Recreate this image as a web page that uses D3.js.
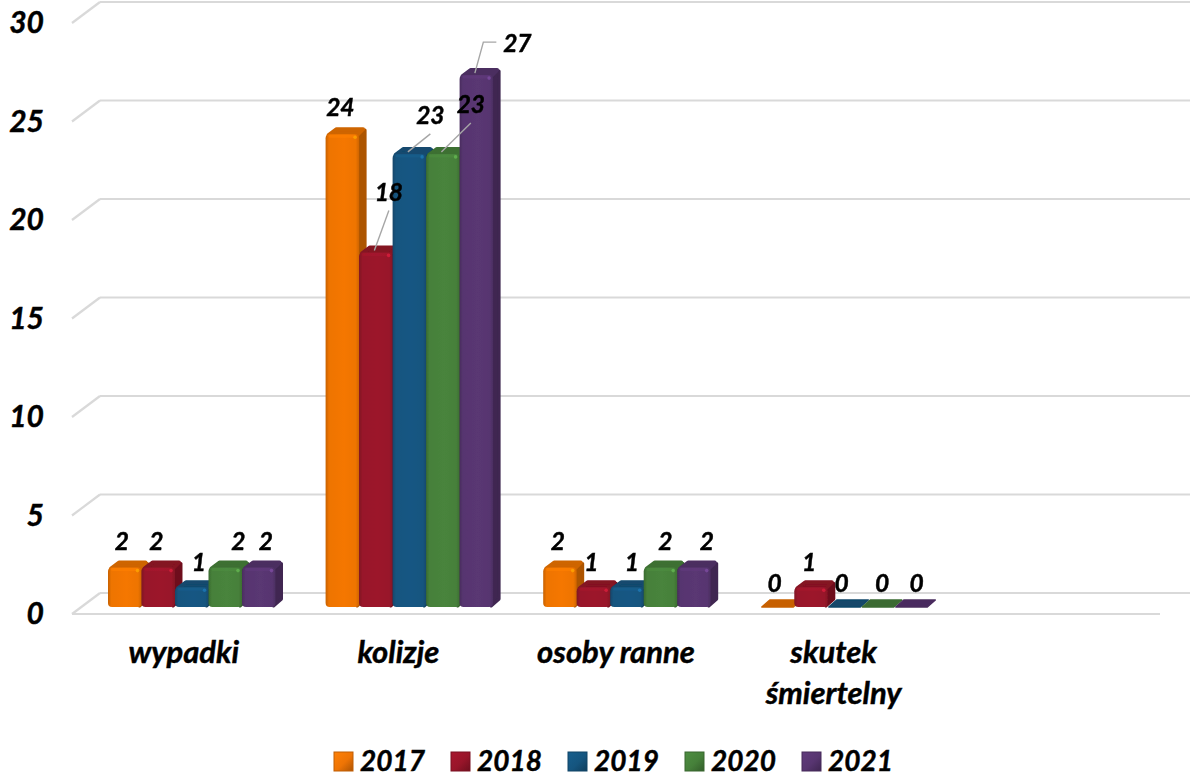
<!DOCTYPE html>
<html>
<head>
<meta charset="utf-8">
<script src="https://cdn.jsdelivr.net/npm/d3@7"></script>
<style>
  html, body { margin: 0; background: #fff; }
  svg { display: block; }
  text { font-family: Lato, "Open Sans", sans-serif; font-weight: 700; font-style: italic; fill: #000; stroke: #000; stroke-width: 0.45px; }
</style>
</head>
<body>
<div id="chart"></div>
<script>
// last slot is empty in the original chart
const categories = ["wypadki", "kolizje", "osoby ranne", "skutek śmiertelny", ""];
const years = ["2017", "2018", "2019", "2020", "2021"];
const values2017 = [2, 24, 2, 0, null];
const values2018 = [2, 18, 1, 1, null];
const values2019 = [1, 23, 1, 0, null];
const values2020 = [2, 23, 2, 0, null];
const values2021 = [2, 27, 2, 0, null];
const allSeries = [values2017, values2018, values2019, values2020, values2021];
const yTicks = [0, 5, 10, 15, 20, 25, 30];
const colors = ["#ee7405", "#98152a", "#15557f", "#46803a", "#573570"];

// hand placed labels, offset from the top centre of each bar [dx, dy]
const labelNudge = {
  "wypadki":           [[-3, -27], [-2, -27], [7, -26], [13, -27], [7, -27]],
  "kolizje":           [[-2, -28], [13, -61], [21, -39], [28, -50], [41, -33]],
  "osoby ranne":       [[-2, -27], [-2, -26], [5, -26], [5, -27], [13, -27]],
  "skutek śmiertelny": [[-3, -25], [-2, -26], [-3, -25], [4, -25], [5, -25]]
};
// which labels got a leader line in the original (category, series)
const leaders = [["kolizje", 1], ["kolizje", 2], ["kolizje", 3], ["kolizje", 4]];

const width = 1200, height = 778;
const depth = 8;
const floorFront = 614, floorBack = 593, barBase = 607;

const svg = d3.select("#chart").append("svg")
    .attr("width", width)
    .attr("height", height);

const x = d3.scaleBand().domain(categories).range([72, 1160]);
const xBar = d3.scaleBand().domain(years).range([0, 167.5]);
const barsLeft = 36;

// front edge of the box carries the labels, back wall carries the gridlines
const yFront = d3.scaleLinear().domain([0, 30]).range([floorFront, floorFront - 591]);
const yBack = d3.scaleLinear().domain([0, 30]).range([floorBack, floorBack - 591]);
const barH = v => yBack(0) - yBack(v);

// gradients
const defs = svg.append("defs");
defs.append("filter").attr("id", "soft")
    .attr("x", "-5%").attr("y", "-5%").attr("width", "110%").attr("height", "110%")
  .append("feGaussianBlur").attr("stdDeviation", 0.6);
colors.forEach((c, i) => {
  const base = d3.color(c);
  const g = defs.append("linearGradient").attr("id", "front" + i);
  g.append("stop").attr("offset", "0%").attr("stop-color", base.darker(0.5));
  g.append("stop").attr("offset", "10%").attr("stop-color", base);
  g.append("stop").attr("offset", "55%").attr("stop-color", base.brighter(0.08));
  g.append("stop").attr("offset", "90%").attr("stop-color", base);
  g.append("stop").attr("offset", "100%").attr("stop-color", base.darker(0.4));

  const s = defs.append("linearGradient").attr("id", "swatch" + i)
      .attr("x1", 0).attr("y1", 0).attr("x2", 1).attr("y2", 1);
  s.append("stop").attr("offset", "0%").attr("stop-color", base.brighter(0.3));
  s.append("stop").attr("offset", "55%").attr("stop-color", base);
  s.append("stop").attr("offset", "100%").attr("stop-color", base.darker(0.9));
});

// grid
const grid = svg.append("g").attr("fill", "none").attr("stroke", "#d9d9d9").attr("stroke-width", 2.2);
grid.selectAll(".back").data(yTicks).enter().append("line")
    .attr("x1", 100).attr("x2", 1190)
    .attr("y1", d => yBack(d)).attr("y2", d => yBack(d));
grid.selectAll(".side").data(yTicks).enter().append("line")
    .attr("x1", 72).attr("x2", 100)
    .attr("y1", d => yFront(d)).attr("y2", d => yBack(d));
grid.append("line")
    .attr("x1", 72).attr("x2", 1160)
    .attr("y1", yFront(0)).attr("y2", yFront(0));

// y axis
const yAxis = svg.append("g")
    .attr("transform", "translate(44,0)")
    .call(d3.axisLeft(yFront).tickValues(yTicks).tickSize(0).tickPadding(0));
yAxis.select(".domain").remove();
yAxis.selectAll("text").style("font-size", "30px").style("font-family", null);

// x axis
const xAxis = svg.append("g")
    .attr("transform", "translate(0,644)")
    .call(d3.axisBottom(x).tickSize(0).tickPadding(0));
xAxis.select(".domain").remove();
xAxis.selectAll("text")
    .style("font-size", "31px")
    .style("font-family", null)
    .attr("dy", null)
    .attr("y", 0)
    .each(function (d, i) {
      const t = d3.select(this);
      const words = d.split(" ");
      t.text(null);
      const fits = words.length < 2 || d.length < 12;
      (fits ? [d] : words).forEach((w, k) => {
        t.append("tspan").attr("x", i === 0 ? 3 : 0).attr("y", 19 + k * 41).text(w);
      });
    });

// bars, left to right so each one covers the side of the previous
const barLayer = svg.append("g").attr("filter", "url(#soft)");
const bars = [];
categories.forEach((cat, ci) => {
  allSeries.forEach((vals, si) => {
    if (vals[ci] === null) return;
    bars.push({cat, ci, si, value: vals[ci]});
  });
});

bars.forEach(b => {
  const g = barLayer.append("g");
  const c = d3.color(colors[b.si]);
  const x0 = x(b.cat) + barsLeft + xBar(years[b.si]);
  const w = xBar.bandwidth();
  const h = barH(b.value);
  const top = barBase - h;
  b.cx = x0 + w / 2;
  b.top = top;

  if (b.value > 0) {
    // side face
    g.append("path")
        .attr("d", `M${x0 + w - 2},${top + 2}L${x0 + w + depth - 2},${top - depth + 4}L${x0 + w + depth - 2},${barBase - depth}L${x0 + w - 2},${barBase - 1}Z`)
        .attr("fill", c.darker(0.9))
        .attr("stroke", c.darker(0.9))
        .attr("stroke-width", 3)
        .attr("stroke-linejoin", "round");
    // top face
    g.append("path")
        .attr("d", `M${x0 + 3},${top + 1}L${x0 + depth + 3},${top - depth + 3}L${x0 + w + depth - 4},${top - depth + 3}L${x0 + w - 2},${top + 1}Z`)
        .attr("fill", c.darker(0.4))
        .attr("stroke", c.darker(0.4))
        .attr("stroke-width", 4)
        .attr("stroke-linejoin", "round");
    // front face
    g.append("rect")
        .attr("x", x0).attr("y", top)
        .attr("width", w).attr("height", h)
        .attr("rx", 4)
        .attr("fill", `url(#front${b.si})`);
    g.append("rect")
        .attr("x", x0 + 3).attr("y", top + 0.5)
        .attr("width", w - 6).attr("height", 3)
        .attr("rx", 1.5)
        .attr("fill", c.brighter(0.3))
        .attr("opacity", 0.6);
    g.append("circle")
        .attr("cx", x0 + w - 4).attr("cy", top + 3)
        .attr("r", 1.8)
        .attr("fill", c.brighter(1.1))
        .attr("opacity", 0.7);
  } else {
    // flat zero bar, only the floor of the box shows
    g.append("path")
        .attr("d", `M${x0 + 1},${top}L${x0 + depth + 1},${top - depth + 1}L${x0 + w + depth - 1},${top - depth + 1}L${x0 + w - 1},${top}Z`)
        .attr("fill", c.darker(0.5))
        .attr("stroke", c.darker(0.5))
        .attr("stroke-width", 1.5)
        .attr("stroke-linejoin", "round");
  }
});

// data labels
const labelLayer = svg.append("g");
const labelSize = 24.5;
bars.forEach(b => {
  const [dx, dy] = labelNudge[b.cat][b.si];
  const lx = b.cx + dx, ly = b.top + dy;
  b.lx = lx;
  b.ly = ly;
  labelLayer.append("text")
      .attr("x", lx).attr("y", ly)
      .attr("text-anchor", "middle")
      .attr("dominant-baseline", "central")
      .style("font-size", labelSize + "px")
      .text(b.value);
});

// leader lines
const leaderLine = d3.line();
leaders.forEach(([cat, si]) => {
  const b = bars.find(d => d.cat === cat && d.si === si);
  const end = [b.cx - 1.5, b.top - 2];
  let pts;
  if (si === 4) {
    // elbow off to the left of the 27
    pts = [[b.lx - 21, b.ly], [b.lx - 34, b.ly], end];
  } else {
    pts = [[b.lx, b.ly + 19], end];
  }
  svg.append("path")
      .attr("d", leaderLine(pts))
      .attr("fill", "none")
      .attr("stroke", "#a6a6a6")
      .attr("stroke-width", 1.4);
});

// legend
const legendX = d3.scalePoint().domain(years).range([334, 802]);
const legend = svg.append("g").selectAll("g").data(years).enter().append("g")
    .attr("transform", d => `translate(${legendX(d)},752)`);
legend.append("rect")
    .attr("width", 19).attr("height", 19)
    .attr("fill", (d, i) => `url(#swatch${i})`)
    .attr("stroke", (d, i) => d3.color(colors[i]).darker(0.6))
    .attr("stroke-width", 1);
legend.append("text")
    .attr("x", 26).attr("y", 19)
    .style("font-size", "28px")
    .text(d => d);
</script>
</body>
</html>
